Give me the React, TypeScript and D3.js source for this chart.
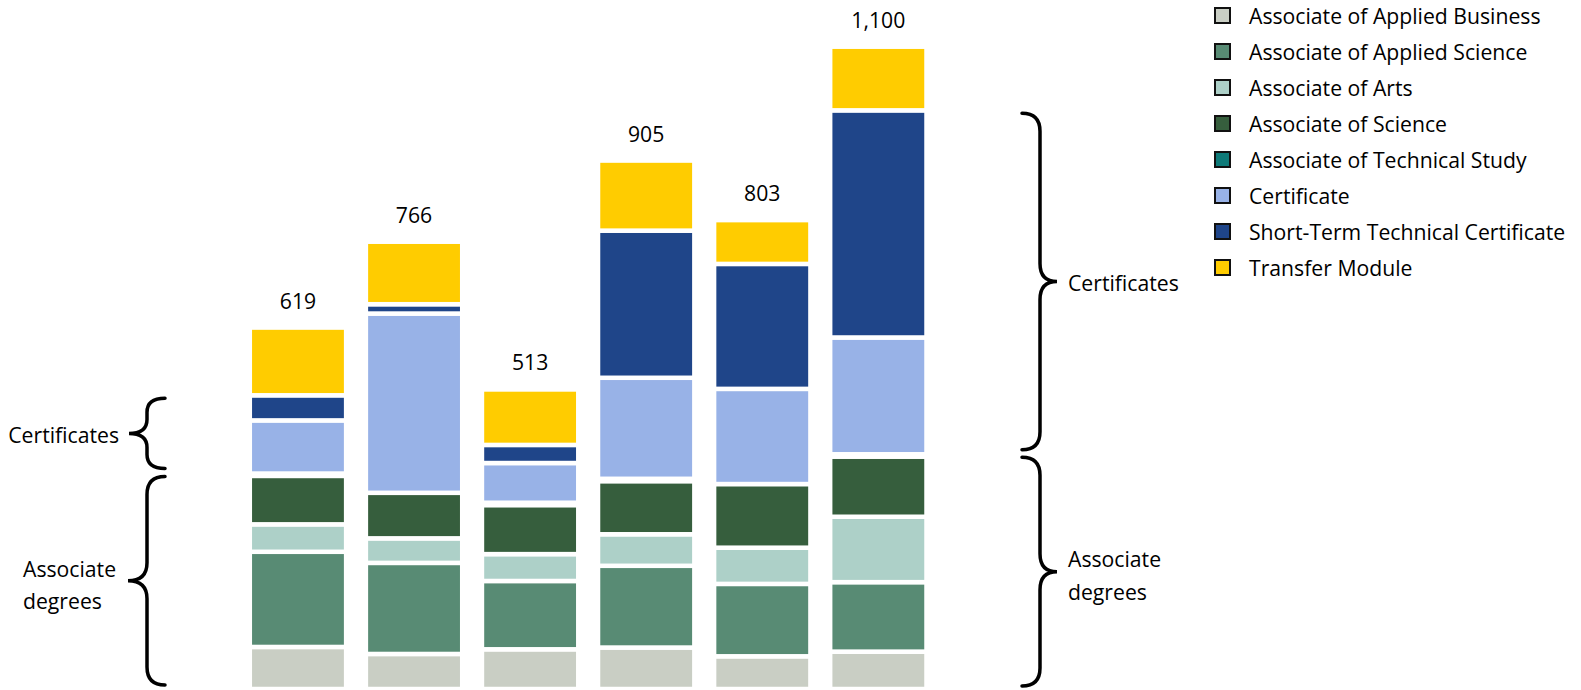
import React, { useEffect } from "react";
import * as d3 from "d3";

// ---- data ----
const categories = ["Group 1", "Group 2", "Group 3", "Group 4", "Group 5", "Group 6"];
const seriesNames = [
  "Associate of Applied Business",
  "Associate of Applied Science",
  "Associate of Arts",
  "Associate of Science",
  "Associate of Technical Study",
  "Certificate",
  "Short-Term Technical Certificate",
  "Transfer Module",
];
const appliedBusiness = [72, 60, 68, 71, 56, 64];
const appliedScience = [163, 156, 117, 140, 124, 119];
const associateArts = [47, 42, 46, 54, 62, 112];
const associateScience = [83, 78, 84, 91, 109, 103];
const technicalStudy = [4, 0, 4, 4, 0, 4];
const certificate = [91, 307, 68, 173, 163, 200];
const shortTermCert = [43, 16, 31, 252, 214, 389];
const transferModule = [116, 107, 95, 120, 75, 109];
const seriesColors = ["#C9CEC4", "#588B74", "#ADD0C8", "#365E3D", "#0E7A78", "#98B2E7", "#1F4589", "#FFCC00"];

const seriesValues = [
  appliedBusiness,
  appliedScience,
  associateArts,
  associateScience,
  technicalStudy,
  certificate,
  shortTermCert,
  transferModule,
];

const FONT = "'Open Sans', 'Noto Sans', sans-serif";
const FS = 21.2;

function bracePath(xe: number, xs: number, xt: number, y0: number, y1: number, r: number) {
  const ym = (y0 + y1) / 2;
  return `M${xe},${y0} Q${xs},${y0} ${xs},${y0 + r} L${xs},${ym - r} Q${xs},${ym} ${xt},${ym} Q${xs},${ym} ${xs},${ym + r} L${xs},${y1 - r} Q${xs},${y1} ${xe},${y1}`;
}

export default function App() {
  useEffect(() => {
    document.body.style.margin = "0";
    document.body.style.overflow = "hidden";
  }, []);

  const rows = categories.map((c, i) => {
    const r: any = { cat: c };
    seriesNames.forEach((s, j) => (r[s] = seriesValues[j][i]));
    return r;
  });
  const stacked = d3.stack<any>().keys(seriesNames)(rows);
  const totals = categories.map((_, i) => d3.sum(seriesValues, (s) => s[i]));

  const x = d3.scaleBand<string>().domain(categories).range([249.8, 926.5]).paddingInner(0.17).paddingOuter(0);
  const y = d3.scaleLinear().domain([0, 1100]).range([689, 46.7]);
  const fmt = d3.format(",");

  // brace extents derived from the first and last bars' stacks
  const certTop = (i: number) => y(stacked[6][i][1]);
  const certBottom = (i: number) => y(stacked[5][i][0]);
  const assocBottom = y(0);

  return (
    <svg width={1581} height={690} style={{ position: "absolute", left: 0, top: 0, display: "block", background: "#fff" }}>
      {stacked.map((layer, j) => (
        <g key={layer.key} fill={seriesColors[j]}>
          {layer.map((d, i) => (
            <rect
              key={i}
              x={x(categories[i])}
              width={x.bandwidth()}
              y={y(d[1])}
              height={Math.max(0, y(d[0]) - y(d[1]))}
              stroke="#fff"
              strokeWidth={4.5}
            />
          ))}
        </g>
      ))}
      {totals.map((t, i) => (
        <text
          key={i}
          x={(x(categories[i]) as number) + x.bandwidth() / 2}
          y={y(t) - 19}
          textAnchor="middle"
          fontFamily={FONT}
          fontSize={FS}
          fill="#000"
        >
          {fmt(t)}
        </text>
      ))}

      {/* braces */}
      <g fill="none" stroke="#000" strokeWidth={3.5} strokeLinecap="round">
        <path d={bracePath(165, 147, 129, certTop(0) + 3, certBottom(0) - 5, 14)} />
        <path d={bracePath(165, 147, 128, certBottom(0) + 3, assocBottom - 4, 18)} />
        <path d={bracePath(1022, 1040, 1057, certTop(5) + 3, certBottom(5) - 4.5, 18)} />
        <path d={bracePath(1022, 1040, 1057, certBottom(5) + 3, assocBottom - 3, 18)} />
      </g>
      <g fontFamily={FONT} fontSize={FS} fill="#000">
        <text x={119} y={(certTop(0) + certBottom(0)) / 2} textAnchor="end" dominantBaseline="central">
          Certificates
        </text>
        <text x={23} y={568} dominantBaseline="central">Associate</text>
        <text x={23} y={600} dominantBaseline="central">degrees</text>
        <text x={1068} y={(certTop(5) + certBottom(5)) / 2} dominantBaseline="central">
          Certificates
        </text>
        <text x={1068} y={558} dominantBaseline="central">Associate</text>
        <text x={1068} y={591} dominantBaseline="central">degrees</text>
      </g>

      {/* legend */}
      <g fontFamily={FONT} fontSize={FS} fill="#000">
        {seriesNames.map((s, i) => (
          <g key={s} transform={`translate(1215, ${15.5 + i * 36})`}>
            <rect x={0} y={-7.5} width={15} height={15} fill={seriesColors[i]} stroke="#111" strokeWidth={2} />
            <text x={34} y={0} dominantBaseline="central">
              {s}
            </text>
          </g>
        ))}
      </g>
    </svg>
  );
}
